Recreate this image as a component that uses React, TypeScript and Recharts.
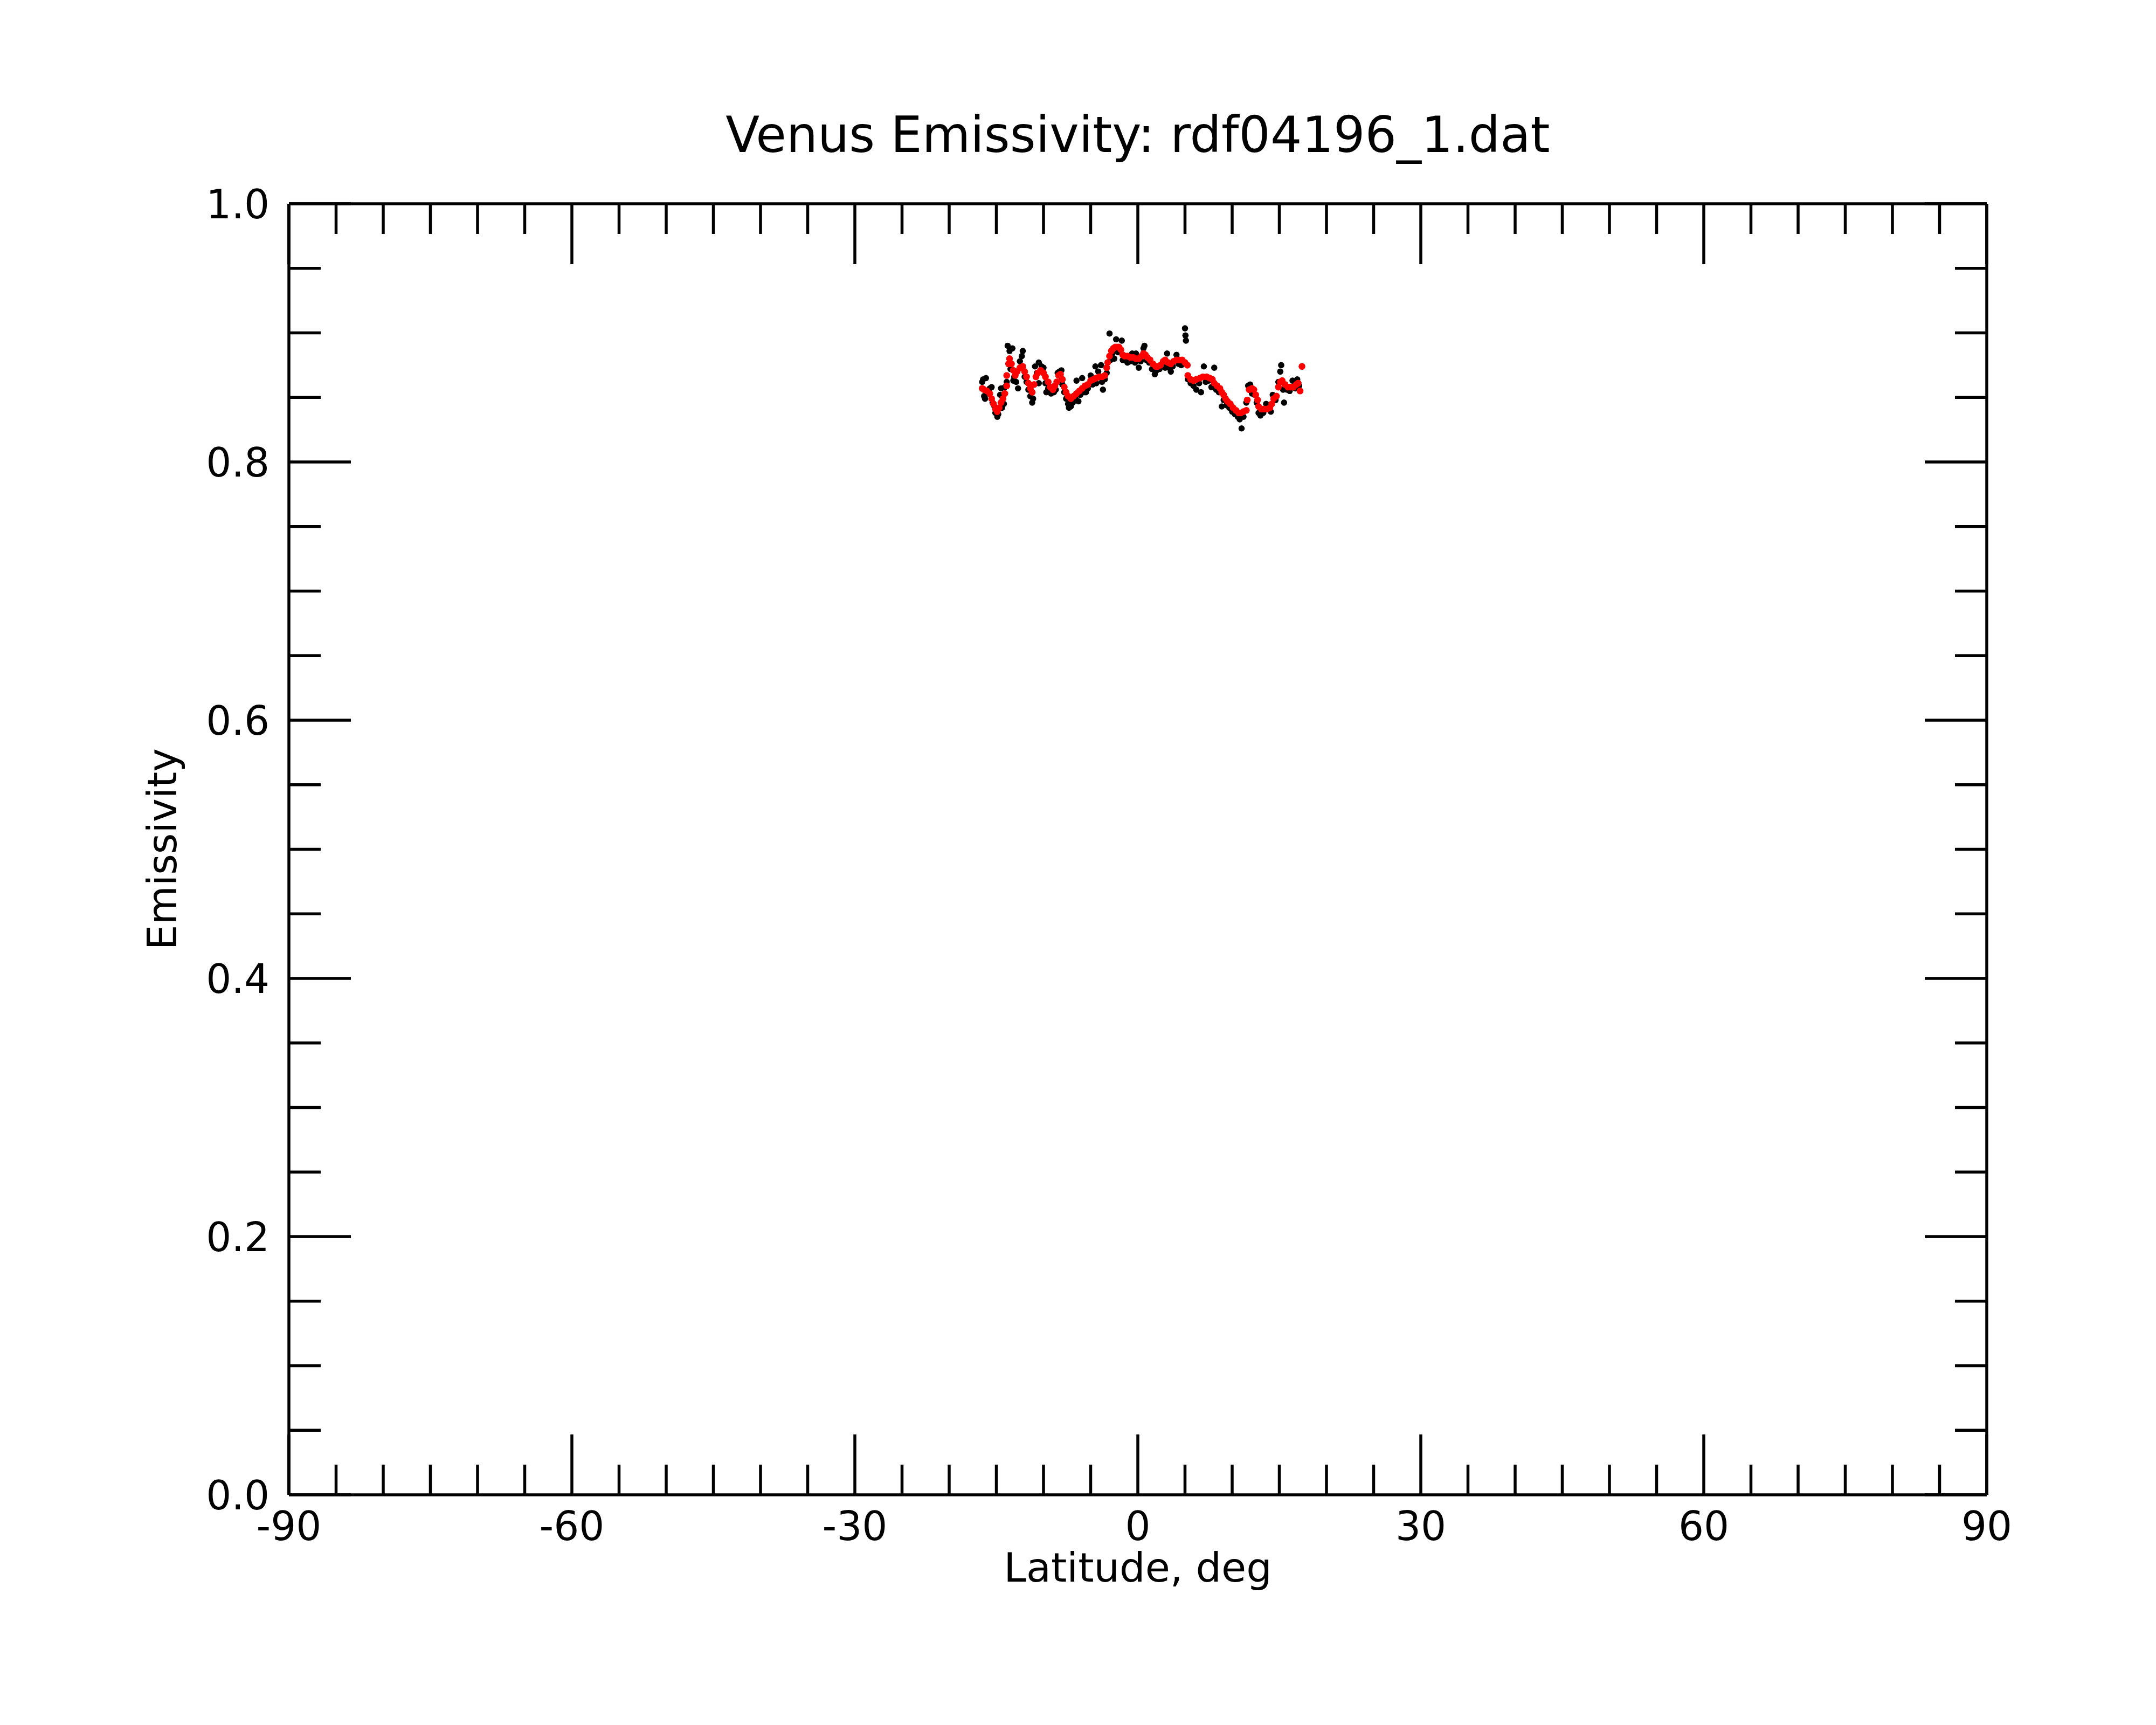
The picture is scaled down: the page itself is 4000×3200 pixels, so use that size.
import React from "react";
import { ScatterChart, Scatter, XAxis, YAxis } from "recharts";

// smoothed profile (red)
const redLat = [
  -16.5, -16.3, -16.0, -15.7, -15.5, -15.3, -15.1, -14.9, -14.7, -14.5, -14.3, -14.1, -13.9,
  -13.9, -13.7, -13.6, -13.4, -13.2, -13.0, -12.8, -12.5, -12.2, -12.0, -11.8, -11.6, -11.4, -11.2,
  -11.0, -10.8, -10.6, -10.3, -10.0, -9.8, -9.5, -9.3, -9.0, -8.8, -8.6, -8.4, -8.2, -8.0, -7.8,
  -7.6, -7.4, -7.1, -6.8, -6.5, -6.2, -5.9, -5.6, -5.3, -5.0, -4.7, -4.4, -4.1, -3.8, -3.5,
  -3.3, -3.2, -3.0, -2.8, -2.6, -2.4, -2.2, -2.0, -1.8, -1.6, -1.4, -1.1, -0.8, -0.5, -0.2,
  0.1, 0.4, 0.6, 0.8, 1.0, 1.3, 1.6, 1.9, 2.1, 2.4, 2.7, 2.9, 3.2, 3.5, 3.8, 4.1, 4.4, 4.7,
  5.0, 5.25, 5.3, 5.6, 5.9, 6.2, 6.6, 6.9, 7.3, 7.6, 7.9, 8.1, 8.4, 8.7, 8.9, 9.1, 9.3, 9.5,
  9.8, 10.1, 10.4, 10.7, 10.9, 11.2, 11.5, 11.6, 11.8, 12.1, 12.3, 12.5, 12.7, 12.8, 13.1, 13.4,
  13.7, 14.0, 14.2, 14.4, 14.7, 14.9, 15.1, 15.3, 15.6, 15.9, 16.2, 16.5, 16.8, 17.0, 17.2, 17.4,
];
const redEmis = [
  0.857, 0.856, 0.855, 0.853, 0.849, 0.845, 0.841, 0.839, 0.842, 0.846, 0.849, 0.853, 0.859,
  0.867, 0.876, 0.88, 0.876, 0.871, 0.867, 0.87, 0.873, 0.874, 0.87, 0.866, 0.861, 0.857, 0.854,
  0.86, 0.866, 0.869, 0.871, 0.869, 0.866, 0.862, 0.858, 0.856, 0.859, 0.862, 0.867, 0.868, 0.864, 0.858,
  0.854, 0.851, 0.849, 0.851, 0.853, 0.855, 0.857, 0.859, 0.86, 0.863, 0.864, 0.865, 0.866, 0.866, 0.867,
  0.873, 0.877, 0.882, 0.886, 0.888, 0.889, 0.889, 0.889, 0.887, 0.883, 0.882, 0.882, 0.881, 0.881, 0.88,
  0.88, 0.882, 0.884, 0.883, 0.881, 0.879, 0.876, 0.874, 0.874, 0.875, 0.878, 0.879, 0.877, 0.876, 0.878, 0.879, 0.879, 0.879,
  0.877, 0.875, 0.867, 0.864, 0.863, 0.864, 0.865, 0.866, 0.866, 0.865, 0.864, 0.861, 0.859, 0.857, 0.854, 0.852, 0.849, 0.847,
  0.845, 0.842, 0.84, 0.838, 0.838, 0.839, 0.84, 0.848, 0.856, 0.857, 0.856, 0.852, 0.848, 0.843, 0.841, 0.841,
  0.841, 0.842, 0.845, 0.849, 0.851, 0.858, 0.862, 0.863, 0.86, 0.858, 0.858, 0.858, 0.86, 0.861, 0.855, 0.874,
];

// raw samples (black)
const rawLat = [
  -16.5, -16.4, -16.3, -16.2, -16.1, -15.9, -15.7, -15.5, -15.4, -15.2, -15.1, -14.9, -14.8, -14.6,
  -14.5, -14.4, -14.2, -14.1, -13.9, -13.8, -13.6, -13.5, -13.3, -13.2, -13.1, -12.9, -12.7, -12.5,
  -12.3, -12.2, -12.0, -11.8, -11.6, -11.4, -11.2, -11.1, -10.9, -10.7, -10.5, -10.5, -10.2, -10.0,
  -9.8, -9.7, -9.5, -9.2, -8.9, -8.7, -8.5, -8.3, -8.1, -8.0, -7.8, -7.6, -7.4, -7.3, -7.1, -6.9,
  -6.6, -6.5, -6.3, -6.1, -5.9, -5.7, -5.5, -5.3, -5.0, -4.8, -4.5, -4.4, -4.2, -3.9, -3.8, -3.7,
  -3.5, -3.3, -3.0, -2.9, -2.7, -2.5, -2.3, -2.1, -1.9, -1.7, -1.6, -1.3, -1.1, -0.8, -0.6, -0.3,
  -0.2, 0.1, 0.3, 0.6, 0.7, 0.9, 1.2, 1.5, 1.8, 2.0, 2.3, 2.6, 2.9, 3.1, 3.3, 3.5, 3.7, 4.1, 4.3,
  4.6, 4.9, 5.0, 5.05, 5.1, 5.3, 5.6, 5.9, 6.2, 6.5, 6.7, 7.0, 7.2, 7.5, 7.8, 8.1, 8.3, 8.6, 8.9,
  9.1, 9.4, 9.7, 10.0, 10.3, 10.6, 10.8, 11.0, 11.2, 11.5, 11.7, 11.9, 12.1, 12.4, 12.6, 12.8,
  13.0, 13.3, 13.6, 13.8, 14.1, 14.3, 14.6, 14.9, 15.1, 15.2, 15.4, 15.5, 15.8, 16.1, 16.4, 16.7,
  16.9, 17.1,
];
const rawEmis = [
  0.862, 0.864, 0.851, 0.849, 0.865, 0.853, 0.857, 0.858, 0.846, 0.843, 0.838, 0.835, 0.837, 0.852,
  0.857, 0.842, 0.845, 0.858, 0.862, 0.89, 0.886, 0.872, 0.888, 0.863, 0.866, 0.862, 0.857, 0.878,
  0.882, 0.886, 0.866, 0.862, 0.856, 0.851, 0.846, 0.849, 0.874, 0.869, 0.877, 0.861, 0.874, 0.873,
  0.861, 0.854, 0.857, 0.853, 0.854, 0.856, 0.869, 0.87, 0.871, 0.86, 0.854, 0.849, 0.845, 0.842, 0.843, 0.846,
  0.849, 0.863, 0.847, 0.852, 0.865, 0.854, 0.854, 0.857, 0.867, 0.86, 0.874, 0.861, 0.87, 0.875, 0.862, 0.856,
  0.864, 0.869, 0.8995, 0.879, 0.884, 0.88, 0.895, 0.885, 0.886, 0.894, 0.879, 0.879, 0.877, 0.878, 0.884, 0.877,
  0.884, 0.873, 0.878, 0.888, 0.89, 0.879, 0.877, 0.872, 0.868, 0.871, 0.872, 0.876, 0.873, 0.884, 0.873, 0.87, 0.874, 0.883, 0.876,
  0.875, 0.877, 0.9035, 0.898, 0.894, 0.864, 0.861, 0.859, 0.856, 0.861, 0.854, 0.874, 0.862, 0.863, 0.858, 0.873, 0.856, 0.854, 0.843,
  0.848, 0.844, 0.842, 0.839, 0.837, 0.835, 0.833, 0.826, 0.835, 0.846, 0.859, 0.86, 0.853, 0.852, 0.846, 0.838,
  0.836, 0.838, 0.845, 0.843, 0.839, 0.852, 0.848, 0.862, 0.87, 0.875, 0.856, 0.846, 0.856, 0.855, 0.863, 0.857,
  0.864, 0.859,
];

const xMajor = [-90, -60, -30, 0, 30, 60, 90];
const xTicks = [
  -90, -85, -80, -75, -70, -65, -60, -55, -50, -45, -40, -35, -30, -25, -20, -15, -10, -5, 0,
  5, 10, 15, 20, 25, 30, 35, 40, 45, 50, 55, 60, 65, 70, 75, 80, 85, 90,
];
const yMajor = [0, 0.2, 0.4, 0.6, 0.8, 1.0];
const yTicks = [
  0, 0.05, 0.1, 0.15, 0.2, 0.25, 0.3, 0.35, 0.4, 0.45, 0.5, 0.55, 0.6, 0.65, 0.7, 0.75, 0.8,
  0.85, 0.9, 0.95, 1.0,
];

const rawData = rawLat.map((lat, i) => ({ lat, emis: rawEmis[i] }));
const redData = redLat.map((lat, i) => ({ lat, emis: redEmis[i] }));

const W = 4000;
const H = 3200;
const FONT = "DejaVu Sans";
const LW = 5.5;

const isMajor = (list: number[], v: number) => list.some((m) => Math.abs(m - v) < 1e-6);

const BottomTick = (props: any) => {
  const { x, y, payload } = props;
  const major = isMajor(xMajor, payload.value);
  return (
    <g>
      <line x1={x} x2={x} y1={y} y2={y - (major ? 112 : 56)} stroke="#000" strokeWidth={LW} />
      {major && (
        <text x={x} y={y + 84} textAnchor="middle" fontSize={74} fontFamily={FONT} fill="#000">
          {payload.value}
        </text>
      )}
    </g>
  );
};

const TopTick = (props: any) => {
  const { x, y, payload } = props;
  const major = isMajor(xMajor, payload.value);
  return <line x1={x} x2={x} y1={y} y2={y + (major ? 112 : 56)} stroke="#000" strokeWidth={LW} />;
};

const LeftTick = (props: any) => {
  const { x, y, payload } = props;
  const major = isMajor(yMajor, payload.value);
  return (
    <g>
      <line x1={x} x2={x + (major ? 115 : 59)} y1={y} y2={y} stroke="#000" strokeWidth={LW} />
      {major && (
        <text x={x - 36} y={y + 27} textAnchor="end" fontSize={74} fontFamily={FONT} fill="#000">
          {payload.value.toFixed(1)}
        </text>
      )}
    </g>
  );
};

const RightTick = (props: any) => {
  const { x, y, payload } = props;
  const major = isMajor(yMajor, payload.value);
  return <line x1={x} x2={x - (major ? 115 : 59)} y1={y} y2={y} stroke="#000" strokeWidth={LW} />;
};

const dot = (r: number, fill: string) => (p: any) => <circle cx={p.cx} cy={p.cy} r={r} fill={fill} />;

const axisLine = { stroke: "#000", strokeWidth: LW };

export default function App() {
  return (
    <div style={{ position: "absolute", left: 0, top: 0, width: W, height: H, background: "#fff" }}>
      <ScatterChart width={W} height={H} margin={{ top: 278, right: 214, bottom: 327, left: 436 }}>
        <XAxis
          xAxisId="b"
          dataKey="lat"
          type="number"
          domain={[-90, 90]}
          ticks={xTicks}
          interval={0}
          height={100}
          tickSize={0}
          tickMargin={0}
          tickLine={false}
          axisLine={axisLine}
          tick={<BottomTick />}
        />
        <XAxis
          xAxisId="t"
          dataKey="lat"
          orientation="top"
          type="number"
          domain={[-90, 90]}
          ticks={xTicks}
          interval={0}
          height={100}
          tickSize={0}
          tickMargin={0}
          tickLine={false}
          axisLine={axisLine}
          tick={<TopTick />}
        />
        <YAxis
          yAxisId="l"
          dataKey="emis"
          type="number"
          domain={[0, 1]}
          ticks={yTicks}
          interval={0}
          width={100}
          tickSize={0}
          tickMargin={0}
          tickLine={false}
          axisLine={axisLine}
          tick={<LeftTick />}
        />
        <YAxis
          yAxisId="r"
          dataKey="emis"
          orientation="right"
          type="number"
          domain={[0, 1]}
          ticks={yTicks}
          interval={0}
          width={100}
          tickSize={0}
          tickMargin={0}
          tickLine={false}
          axisLine={axisLine}
          tick={<RightTick />}
        />
        {/* raw points on the top/right pair (same domains), smoothed on bottom/left */}
        <Scatter xAxisId="t" yAxisId="r" data={rawData} shape={dot(5.8, "#000")} isAnimationActive={false} />
        <Scatter xAxisId="b" yAxisId="l" data={redData} shape={dot(6.3, "#ff0000")} isAnimationActive={false} />
      </ScatterChart>
      <svg
        width={W}
        height={H}
        style={{ position: "absolute", left: 0, top: 0, pointerEvents: "none" }}
        fontFamily={FONT}
      >
        <text x={2111} y={282} textAnchor="middle" fontSize={92} fill="#000">
          Venus Emissivity: rdf04196_1.dat
        </text>
        <text x={2111} y={2934} textAnchor="middle" fontSize={75} fill="#000">
          Latitude, deg
        </text>
        <text x={327} y={1575} textAnchor="middle" fontSize={74} fill="#000" transform="rotate(-90 327 1575)">
          Emissivity
        </text>
      </svg>
    </div>
  );
}
